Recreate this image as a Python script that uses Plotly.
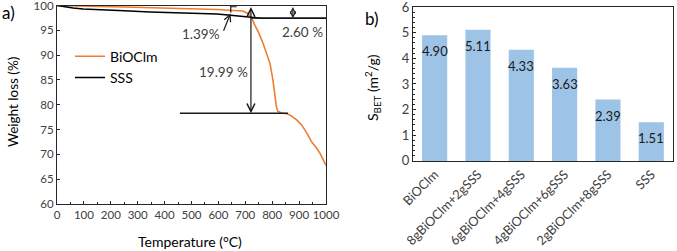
import plotly.graph_objects as go

# ---- Panel a) TGA data ----
temp_bioclm = [0, 50, 100, 160, 250, 350, 409, 500, 595, 655, 691, 710, 724, 736, 750, 766, 780, 792, 803, 810, 816, 821, 835, 855, 870, 892, 910, 929, 947, 965, 978, 1000]
wt_bioclm = [100, 99.9, 99.85, 99.8, 99.7, 99.55, 99.5, 99.4, 99.2, 99.0, 98.9, 98.4, 97.4, 96.0, 94.5, 92.4, 90.4, 88.3, 84.9, 81.5, 79.5, 78.7, 78.35, 78.2, 77.8, 76.9, 75.9, 74.3, 72.5, 71.3, 70.2, 67.8]
temp_sss = [0, 30, 60, 97, 160, 250, 346, 409, 500, 595, 655, 690, 717, 760, 850, 1000]
wt_sss = [100, 99.7, 99.5, 99.3, 99.1, 98.95, 98.7, 98.6, 98.45, 98.3, 98.0, 97.8, 97.55, 97.45, 97.45, 97.45]

# guide lines (a): horizontal reference levels
hline_plateau = dict(x0=721, x1=1000, y=97.45)
hline_low = dict(x0=457, x1=859, y=78.3)
# double arrows: x, y_top, y_bottom, label, label position
arr_total = dict(x=721, y0=100, y1=78.3, text="19.99 %", tx=620, ty=86.7)
arr_sss = dict(x=877, y0=100, y1=97.45, text="2.60 %", tx=912, ty=94.6)
# small 1.39 % bracket and its pointer
mark_small = dict(x=646, y0=100, y1=98.6, tick_x1=668, tick_y=99.75)
ptr_small = dict(text="1.39%", tx=537, ty=94.3, x0=617, y0=94.6, x1=645, y1=98.4)

# ---- Panel b) BET data ----
samples = ["BiOClm", "8gBiOClm+2gSSS", "6gBiOClm+4gSSS", "4gBiOClm+6gSSS", "2gBiOClm+8gSSS", "SSS"]
sbet = [4.90, 5.11, 4.33, 3.63, 2.39, 1.51]
sbet_labels = ["4.90", "5.11", "4.33", "3.63", "2.39", "1.51"]

FONT = "Lato, Open Sans, sans-serif"
TXT = "#404040"
AX = "#262626"
LN = "#1a1a1a"
ORANGE = "#ED7D31"
BLUE = "#9DC3E6"

fig = go.Figure()
fig.add_trace(go.Scatter(x=temp_bioclm, y=wt_bioclm, mode="lines", name="BiOClm",
                         line=dict(color=ORANGE, width=1.6), xaxis="x", yaxis="y"))
fig.add_trace(go.Scatter(x=temp_sss, y=wt_sss, mode="lines", name="SSS",
                         line=dict(color="black", width=1.6), xaxis="x", yaxis="y"))
fig.add_trace(go.Bar(x=samples, y=sbet, marker=dict(color=BLUE, line=dict(width=0)), width=0.58,
                     showlegend=False, xaxis="x2", yaxis="y2"))

shapes = []
for h in (hline_plateau, hline_low):
    shapes.append(dict(type="line", xref="x", yref="y", x0=h["x0"], x1=h["x1"], y0=h["y"], y1=h["y"],
                       line=dict(color=LN, width=1.3)))
shapes.append(dict(type="line", xref="x", yref="y", x0=mark_small["x"], x1=mark_small["x"],
                   y0=mark_small["y0"], y1=mark_small["y1"], line=dict(color=LN, width=1.2)))
shapes.append(dict(type="line", xref="x", yref="y", x0=mark_small["x"], x1=mark_small["tick_x1"],
                   y0=mark_small["tick_y"], y1=mark_small["tick_y"], line=dict(color=LN, width=1.0)))
fig.update_layout(shapes=shapes)

anns = []
for a, hs in ((arr_total, 1.3), (arr_sss, 0.9)):
    anns.append(dict(x=a["x"], y=a["y1"], ax=a["x"], ay=a["y0"], xref="x", yref="y", axref="x", ayref="y",
                     showarrow=True, arrowhead=5, startarrowhead=5, arrowside="end+start",
                     arrowsize=hs, startarrowsize=hs, arrowwidth=1.2, arrowcolor=LN, text=""))
    anns.append(dict(x=a["tx"], y=a["ty"], xref="x", yref="y", text=a["text"], showarrow=False,
                     font=dict(size=13.5, color=TXT, family=FONT)))
anns.append(dict(x=ptr_small["x1"], y=ptr_small["y1"], ax=ptr_small["x0"], ay=ptr_small["y0"],
                 xref="x", yref="y", axref="x", ayref="y", showarrow=True, arrowhead=5, arrowsize=1.1,
                 arrowwidth=1.2, arrowcolor=LN, text=""))
anns.append(dict(x=ptr_small["tx"], y=ptr_small["ty"], xref="x", yref="y", text=ptr_small["text"],
                 showarrow=False, font=dict(size=13.5, color=TXT, family=FONT)))
# bar value labels
for s, v, lab in zip(samples, sbet, sbet_labels):
    anns.append(dict(x=s, y=v, xref="x2", yref="y2", text=lab, showarrow=False, yshift=-16,
                     font=dict(size=13, color="#1a1a1a", family=FONT)))
# panel labels
anns.append(dict(x=0.0, y=1.0, xref="paper", yref="paper", text="a)", showarrow=False,
                 xanchor="left", yanchor="top", font=dict(size=17, color="black", family=FONT)))
anns.append(dict(x=0.536, y=0.975, xref="paper", yref="paper", text="b)", showarrow=False,
                 xanchor="left", yanchor="top", font=dict(size=17, color="black", family=FONT)))
# axis titles
anns.append(dict(x=190 / 677, y=1 - 241 / 251, xref="paper", yref="paper", text="Temperature (°C)",
                 showarrow=False, xanchor="center", yanchor="middle",
                 font=dict(size=14, color="black", family=FONT)))
anns.append(dict(x=13 / 677, y=1 - 102 / 251, xref="paper", yref="paper", text="Weight loss (%)",
                 showarrow=False, textangle=-90, xanchor="center", yanchor="middle",
                 font=dict(size=13.5, color="black", family=FONT)))
anns.append(dict(x=372 / 677, y=1 - 88 / 251, xref="paper", yref="paper",
                 text="S<sub>BET</sub> (m<sup>2</sup>/g)",
                 showarrow=False, textangle=-90, xanchor="center", yanchor="middle",
                 font=dict(size=14, color="black", family=FONT)))
fig.update_layout(annotations=anns)

axis_common = dict(showline=True, linecolor=AX, linewidth=1.2, mirror=True, showgrid=False,
                   zeroline=False, ticklabeloverflow="allow", automargin=False)

fig.update_layout(
    width=677, height=251, margin=dict(l=0, r=0, t=0, b=0, autoexpand=False),
    paper_bgcolor="white", plot_bgcolor="white",
    font=dict(family=FONT, color=TXT),
    xaxis=dict(domain=[0.0842, 0.4815], range=[0, 1000], dtick=100, ticks="inside", ticklen=3,
               tickcolor=AX, minor=dict(dtick=50, ticks="inside", ticklen=2, tickcolor=AX),
               tickangle=0, tickfont=dict(size=11.5, color=TXT, family=FONT),
               anchor="y", **axis_common),
    yaxis=dict(domain=[0.187, 0.978], range=[60, 100], dtick=5, ticks="inside", ticklen=3, tickcolor=AX,
               tickfont=dict(size=11.5, color=TXT, family=FONT),
               anchor="x", **axis_common),
    xaxis2=dict(domain=[0.61, 0.994], range=[-0.5, 5.5], tickangle=-45, ticks="",
                tickfont=dict(size=12.8, color=TXT, family=FONT),
                anchor="y2", **axis_common),
    yaxis2=dict(domain=[0.359, 0.972], range=[0, 6], dtick=1, ticks="inside", ticklen=3, tickcolor=AX,
                minor=dict(dtick=0.2, ticks="inside", ticklen=2, tickcolor=AX),
                tickfont=dict(size=13, color=TXT, family=FONT),
                anchor="x2", **axis_common),
    legend=dict(x=0.1034, y=0.838, xanchor="left", yanchor="top", bgcolor="rgba(0,0,0,0)",
                font=dict(size=14, color="black", family=FONT), itemwidth=30),
)

fig.write_html("out.html")
